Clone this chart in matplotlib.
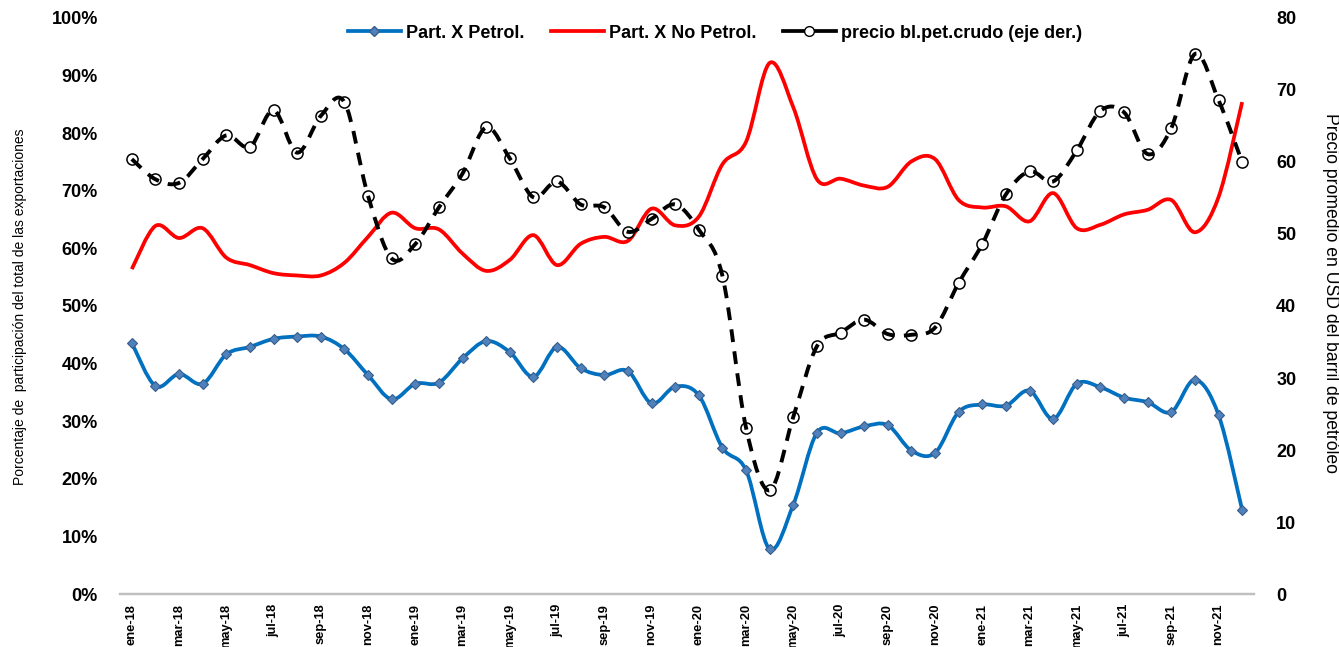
import matplotlib
matplotlib.use('Agg')
import matplotlib.pyplot as plt
from matplotlib.path import Path
from matplotlib.patches import PathPatch
from matplotlib.lines import Line2D
from matplotlib.ticker import FuncFormatter

meses = ['ene', 'feb', 'mar', 'abr', 'may', 'jun', 'jul', 'ago', 'sep', 'oct', 'nov', 'dic']
anios = ['18', '19', '20', '21']
fechas = [m + '-' + a for a in anios for m in meses]

# participacion (%) de exportaciones petroleras
part_petrol = [43.6, 36.1, 38.2, 36.5, 41.6, 42.9, 44.3, 44.7, 44.7, 42.5, 38.0, 33.8,
               36.5, 36.7, 40.9, 43.9, 42.0, 37.7, 42.9, 39.2, 38.0, 38.7, 33.1, 36.0,
               34.5, 25.4, 21.5, 7.8, 15.5, 28.0, 27.9, 29.1, 29.3, 24.9, 24.5, 31.6,
               32.9, 32.7, 35.3, 30.4, 36.5, 35.9, 34.1, 33.3, 31.6, 37.2, 31.1, 14.6]

# participacion (%) no petroleras
part_no_petrol = [56.4, 63.9, 61.8, 63.5, 58.4, 57.1, 55.7, 55.3, 55.3, 57.5, 62.0, 66.2,
                  63.5, 63.3, 59.1, 56.1, 58.0, 62.3, 57.1, 60.8, 62.0, 61.3, 66.9, 64.0,
                  65.5, 74.6, 78.5, 92.2, 84.5, 72.0, 72.1, 70.9, 70.7, 75.1, 75.5, 68.4,
                  67.1, 67.3, 64.7, 69.6, 63.5, 64.1, 65.9, 66.7, 68.4, 62.8, 68.9, 85.4]

# precio del barril (USD)
precio = [60.4, 57.6, 57.1, 60.4, 63.7, 62.1, 67.2, 61.3, 66.4, 68.3, 55.3, 46.6,
          48.6, 53.7, 58.4, 64.8, 60.5, 55.1, 57.3, 54.1, 53.7, 50.3, 52.1, 54.1,
          50.6, 44.2, 23.1, 14.4, 24.6, 34.4, 36.3, 38.1, 36.1, 36.0, 37.0, 43.2,
          48.6, 55.5, 58.7, 57.3, 61.6, 67.1, 66.9, 61.1, 64.7, 75.0, 68.6, 60.0]

azul = '#0070C0'
rojo = '#FF0000'


def curva(ax, x, y, color, lw, ls='-', z=2):
    # linea suavizada tipo excel (bezier)
    n = len(x)
    verts = [(x[0], y[0])]
    codes = [Path.MOVETO]
    for i in range(n - 1):
        x0, y0 = (x[i - 1], y[i - 1]) if i > 0 else (x[i], y[i])
        x3, y3 = (x[i + 2], y[i + 2]) if i + 2 < n else (x[i + 1], y[i + 1])
        c1 = (x[i] + (x[i + 1] - x0) / 6, y[i] + (y[i + 1] - y0) / 6)
        c2 = (x[i + 1] - (x3 - x[i]) / 6, y[i + 1] - (y3 - y[i]) / 6)
        verts += [c1, c2, (x[i + 1], y[i + 1])]
        codes += [Path.CURVE4] * 3
    ax.add_patch(PathPatch(Path(verts, codes), fill=False, edgecolor=color,
                           lw=lw, linestyle=ls, zorder=z))


plt.rcParams['font.family'] = ['Liberation Sans', 'DejaVu Sans']

fig = plt.figure(figsize=(13.39, 6.47), dpi=100)
ax = fig.add_axes([0.0896, 0.0819, 0.8469, 0.8903])
ax2 = ax.twinx()

x = list(range(len(fechas)))
pp = [v / 100 for v in part_petrol]
pn = [v / 100 for v in part_no_petrol]

curva(ax, x, pp, azul, 2.7)
ax.plot(x, pp, linestyle='none', marker='D', markersize=5,
        markerfacecolor='#4F81BD', markeredgecolor='#385D8A', markeredgewidth=0.8, zorder=3)
curva(ax, x, pn, rojo, 2.7)

ax2.plot(x, precio, linestyle='none', marker='o', markersize=8,
         markerfacecolor='white', markeredgecolor='black', markeredgewidth=1.1, zorder=2)
curva(ax2, x, precio, 'black', 2.8, ls=(0, (3.3, 2.4)), z=3)

ax.set_xlim(-0.5, 47.5)
ax.set_ylim(0, 1)
ax2.set_ylim(0, 80)
ax.set_yticks([i / 10 for i in range(11)])
ax.yaxis.set_major_formatter(FuncFormatter(lambda v, p: '%d%%' % round(v * 100)))
ax2.set_yticks(range(0, 81, 10))
ax.set_xticks(x[::2])
ax.set_xticklabels(fechas[::2], rotation=90, fontweight='bold', fontsize=9.3)

for a in (ax, ax2):
    for s in ['top', 'left', 'right']:
        a.spines[s].set_visible(False)
    a.spines['bottom'].set_color('#BFBFBF')
    a.spines['bottom'].set_linewidth(1.6)
    a.tick_params(length=0)

ax.tick_params(axis='y', pad=16, labelsize=13)
ax2.tick_params(axis='y', pad=16, labelsize=13)
ax.tick_params(axis='x', pad=7)
for t in ax.get_yticklabels() + ax2.get_yticklabels():
    t.set_fontweight('bold')

fig.text(20 / 1339, 1 - 307 / 647, 'Porcentaje de  participación del total de las exportaciones',
         rotation=90, ha='center', va='center', fontsize=10)
fig.text(1330 / 1339, 1 - 293 / 647, 'Precio promedio en USD del barril de petróleo',
         rotation=270, ha='center', va='center', fontsize=12.7)

handles = [
    Line2D([], [], color=azul, lw=2.7, marker='D', markersize=5,
           markerfacecolor='#4F81BD', markeredgecolor='#385D8A'),
    Line2D([], [], color=rojo, lw=2.7),
    Line2D([], [], color='black', lw=2.7, marker='o', markersize=7,
           markerfacecolor='white', markeredgecolor='black'),
]
labels = ['Part. X Petrol.', 'Part. X No Petrol.', 'precio bl.pet.crudo (eje der.)']
fig.legend(handles, labels, loc='center', bbox_to_anchor=(715 / 1339, 1 - 33 / 647),
           ncol=3, frameon=False, handlelength=2.9, handletextpad=0.28, columnspacing=1.5,
           borderpad=0, prop={'weight': 'bold', 'size': 13})

fig.savefig('out.png', dpi=100)
